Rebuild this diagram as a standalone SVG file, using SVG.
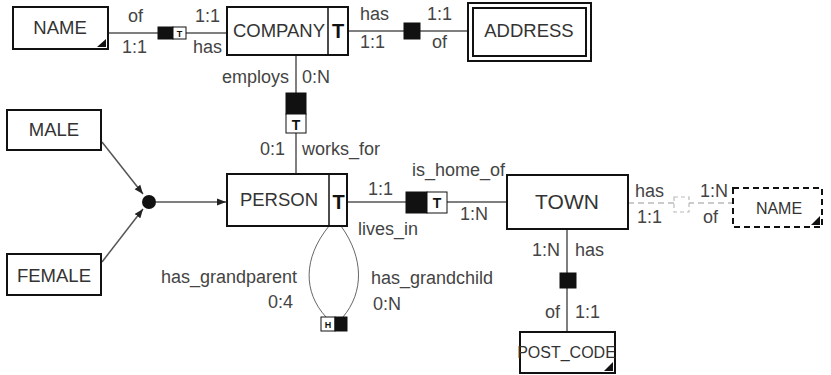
<svg xmlns="http://www.w3.org/2000/svg" width="831" height="375" viewBox="0 0 831 375">
<defs>
<style>
.ent{fill:#fff;stroke:#111;stroke-width:2}
.dash{fill:#fff;stroke:#111;stroke-width:2;stroke-dasharray:6,4}
.en{font-family:"Liberation Sans",Arial,sans-serif;font-size:18.5px;fill:#333;text-anchor:middle}
.lb{font-family:"Liberation Sans",Arial,sans-serif;font-size:18px;fill:#444}
.tt{font-family:"Liberation Sans",Arial,sans-serif;font-weight:bold;fill:#111;text-anchor:middle}
.ln{fill:none;stroke:#555;stroke-width:1.5}
.thin{fill:none;stroke:#666;stroke-width:1}
.blk{fill:#111;stroke:#111;stroke-width:1}
.wht{fill:#fff;stroke:#111;stroke-width:1}
.tri{fill:#111}
</style>
<marker id="arr" viewBox="0 0 10 10" refX="10" refY="5" markerWidth="9" markerHeight="9" markerUnits="userSpaceOnUse" orient="auto">
<path d="M0,1 L10,5 L0,9 z" fill="#222"/>
</marker>
</defs>

<g id="connectors">
<!-- NAME - COMPANY -->
<line class="ln" x1="108" y1="33" x2="227" y2="33"/>
<rect class="blk" x="158" y="27" width="15" height="12"/>
<rect class="wht" x="173" y="27" width="13" height="12"/>
<text class="tt" x="179.5" y="37" font-size="9">T</text>
<text class="lb" x="128" y="22">of</text>
<text class="lb" x="195" y="22">1:1</text>
<text class="lb" x="122" y="53">1:1</text>
<text class="lb" x="193" y="53">has</text>

<!-- COMPANY - ADDRESS -->
<line class="ln" x1="348" y1="31" x2="468" y2="31"/>
<rect class="blk" x="404" y="23" width="16" height="16"/>
<text class="lb" x="360" y="20">has</text>
<text class="lb" x="427" y="20">1:1</text>
<text class="lb" x="360" y="48">1:1</text>
<text class="lb" x="432" y="48">of</text>

<!-- COMPANY - PERSON -->
<line class="ln" x1="296" y1="55" x2="296" y2="173"/>
<rect class="blk" x="286" y="93" width="20" height="21"/>
<rect class="wht" x="286" y="114" width="20" height="19"/>
<text class="tt" x="296" y="130" font-size="14">T</text>
<text class="lb" x="289" y="83" text-anchor="end">employs</text>
<text class="lb" x="302" y="83">0:N</text>
<text class="lb" x="285" y="155" text-anchor="end">0:1</text>
<text class="lb" x="302" y="155">works_for</text>

<!-- MALE/FEMALE subtype -->
<line class="ln" x1="102" y1="142" x2="143" y2="194" stroke-width="1.2" marker-end="url(#arr)"/>
<line class="ln" x1="102" y1="262" x2="143" y2="209" stroke-width="1.2" marker-end="url(#arr)"/>
<circle cx="149" cy="202" r="7" fill="#111"/>
<line class="ln" x1="156" y1="202" x2="226" y2="202" stroke-width="1.2" marker-end="url(#arr)"/>

<!-- PERSON - TOWN -->
<line class="ln" x1="347" y1="202" x2="507" y2="202"/>
<rect class="blk" x="406" y="192" width="21" height="21"/>
<rect class="wht" x="427" y="192" width="20" height="21"/>
<text class="tt" x="437" y="208" font-size="14">T</text>
<text class="lb" x="368" y="195">1:1</text>
<text class="lb" x="412" y="176">is_home_of</text>
<text class="lb" x="460" y="220">1:N</text>
<text class="lb" x="358" y="235">lives_in</text>

<!-- PERSON recursive -->
<path class="thin" d="M329,226 C303,258 303,292 326,317"/>
<path class="thin" d="M341,226 C364,258 364,292 343,317"/>
<rect class="wht" x="321" y="317" width="14" height="14"/>
<rect class="blk" x="335" y="317" width="12" height="14"/>
<text class="tt" x="328" y="328" font-size="9">H</text>
<text class="lb" x="297" y="283" text-anchor="end">has_grandparent</text>
<text class="lb" x="293" y="308" text-anchor="end">0:4</text>
<text class="lb" x="371" y="284">has_grandchild</text>
<text class="lb" x="373" y="310">0:N</text>

<!-- TOWN - NAME (dashed) -->
<line x1="628" y1="203" x2="733" y2="203" stroke="#bbb" stroke-width="1.5" stroke-dasharray="6,4"/>
<rect x="674" y="197" width="15" height="15" fill="#fff" stroke="#bbb" stroke-width="1.2" stroke-dasharray="4,3"/>
<text class="lb" x="635" y="197">has</text>
<text class="lb" x="700" y="197">1:N</text>
<text class="lb" x="637" y="223">1:1</text>
<text class="lb" x="703" y="223">of</text>

<!-- TOWN - POST_CODE -->
<line class="ln" x1="567" y1="229" x2="567" y2="332"/>
<rect class="blk" x="560" y="273" width="16" height="15"/>
<text class="lb" x="560" y="256" text-anchor="end">1:N</text>
<text class="lb" x="575" y="256">has</text>
<text class="lb" x="560" y="318" text-anchor="end">of</text>
<text class="lb" x="575" y="318">1:1</text>
</g>

<g id="name-top">
<rect class="ent" x="13" y="7" width="95" height="42"/>
<polygon class="tri" points="106,39 106,47 97,47"/>
<text class="en" x="60" y="34">NAME</text>
</g>

<g id="company">
<rect class="ent" x="227" y="7" width="121" height="48"/>
<line x1="328" y1="7" x2="328" y2="55" stroke="#111" stroke-width="1.5"/>
<text class="en" x="279" y="37">COMPANY</text>
<text class="tt" x="338" y="38" font-size="20">T</text>
</g>

<g id="address">
<rect class="ent" x="468" y="3" width="123" height="58"/>
<rect class="ent" x="473" y="8" width="113" height="48"/>
<text class="en" x="529" y="37">ADDRESS</text>
</g>

<g id="male">
<rect class="ent" x="7" y="110" width="94" height="40"/>
<text class="en" x="54" y="136">MALE</text>
</g>

<g id="female">
<rect class="ent" x="7" y="254" width="94" height="41"/>
<text class="en" x="54" y="282">FEMALE</text>
</g>

<g id="person">
<rect class="ent" x="227" y="174" width="120" height="52"/>
<line x1="329" y1="174" x2="329" y2="226" stroke="#111" stroke-width="1.5"/>
<text class="en" x="279" y="206">PERSON</text>
<text class="tt" x="338.5" y="209" font-size="20">T</text>
</g>

<g id="town">
<rect class="ent" x="507" y="175" width="121" height="54"/>
<text class="en" x="567" y="209" style="font-size:21px">TOWN</text>
</g>

<g id="name-town">
<rect class="dash" x="733" y="188" width="89" height="39"/>
<polygon class="tri" points="820,216 820,225 811,225"/>
<text class="en" x="779" y="214" style="font-size:16px">NAME</text>
</g>

<g id="post-code">
<rect class="ent" x="520" y="332" width="95" height="41"/>
<polygon class="tri" points="613,362 613,371 604,371"/>
<text class="en" x="566.5" y="358" style="font-size:16px">POST_CODE</text>
</g>
</svg>
